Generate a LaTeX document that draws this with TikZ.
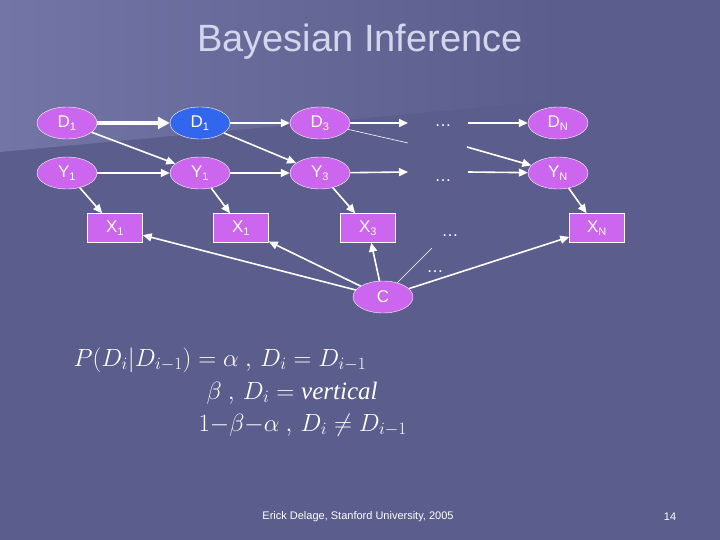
\documentclass[tikz,border=0pt]{standalone}
\usepackage{fontspec}
\setsansfont{Liberation Sans}
\setmainfont{Liberation Serif}
\usetikzlibrary{shapes.geometric,arrows.meta}
\definecolor{bg}{HTML}{5B5D8C}
\definecolor{bgl}{HTML}{7275A5}
\definecolor{nd}{HTML}{CC66EE}
\definecolor{bl}{HTML}{3366EE}
\definecolor{tt}{HTML}{D4D6EC}
\newcommand{\sbb}[1]{\textsubscript{\fontsize{11}{11}\selectfont #1}}
\begin{document}
\begin{tikzpicture}[x=1pt,y=-1pt,
  ell/.style={ellipse,draw=white,fill=nd,minimum width=60pt,minimum height=32pt,inner sep=0pt,text=white,font=\sffamily\fontsize{17}{17}\selectfont},
  box/.style={rectangle,draw=white,fill=nd,minimum width=55pt,minimum height=29pt,inner sep=0pt,text=white,font=\sffamily\fontsize{17}{17}\selectfont},
  dts/.style={text=white,font=\sffamily\fontsize{17}{17}\selectfont},
  frm/.style={anchor=west,text=white,font=\fontsize{25}{25}\selectfont},
  arr/.style={draw=white,line width=1.6pt,-{Triangle[length=9pt,width=8pt]}},
  thin/.style={draw=white,line width=0.6pt}]
\useasboundingbox (0,0) rectangle (720,540);
\fill[bg] (0,0) rectangle (720,540);
\shade[left color=bgl,right color=bg] (0,0) -- (560,0) -- (560,100) -- (0,152) -- cycle;
\node[text=tt,font=\sffamily\fontsize{38}{38}\selectfont] (title) at (360,42) {Bayesian Inference};
\node[ell] (d1) at (67,123) {D\sbb{1}};
\node[ell,fill=bl] (d2) at (200,123) {D\sbb{1}};
\node[ell] (d3) at (320,123) {D\sbb{3}};
\node[dts] (dd) at (443,126) {\dots};
\node[ell] (dn) at (558,123) {D\sbb{N}};
\node[ell] (y1) at (67,173) {Y\sbb{1}};
\node[ell] (y2) at (200,173) {Y\sbb{1}};
\node[ell] (y3) at (320,173) {Y\sbb{3}};
\node[dts] (yd) at (443,181) {\dots};
\node[ell] (yn) at (558,173) {Y\sbb{N}};
\node[box] (x1) at (115,228) {X\sbb{1}};
\node[box] (x2) at (241,228) {X\sbb{1}};
\node[box] (x3) at (368,228) {X\sbb{3}};
\node[dts] (xd) at (450,236) {\dots};
\node[box] (xn) at (597,228) {X\sbb{N}};
\node[ell] (c) at (383,297) {C};
\node[dts] (cd) at (435,272) {\dots};
\coordinate (a1) at (408,123); \coordinate (a2) at (468,123);
\coordinate (b1) at (408,172); \coordinate (b2) at (468,172);
\coordinate (e1) at (408,143); \coordinate (e2) at (467,147);
\coordinate (f1) at (432,248);
\draw[arr,line width=3.5pt,-{Triangle[length=12pt,width=12pt]}] (d1) -- (d2);
\draw[arr] (d2) -- (d3);
\draw[arr] (d3) -- (a1);
\draw[arr] (a2) -- (dn);
\draw[arr] (d1) -- (y2);
\draw[arr] (d2) -- (y3);
\draw[thin] (d3) -- (e1);
\draw[arr] (e2) -- (yn);
\draw[arr] (y1) -- (y2);
\draw[arr] (y2) -- (y3);
\draw[arr] (y3) -- (b1);
\draw[arr] (b2) -- (yn);
\draw[arr] (y1) -- (x1);
\draw[arr] (y2) -- (x2);
\draw[arr] (y3) -- (x3);
\draw[arr] (yn) -- (xn);
\draw[arr] (c) -- (x1);
\draw[arr] (c) -- (x2);
\draw[arr] (c) -- (x3);
\draw[arr] (c) -- (xn);
\draw[thin] (c) -- (f1);
\node[frm] (f1l) at (70,360) {$P(D_{i}|D_{i-1})=\alpha\ ,\,D_{i}=D_{i-1}$};
\node[frm] (f2l) at (203,393) {$\beta\ ,\,D_{i}=\mathit{vertical}$};
\node[frm] (f3l) at (195,425) {$1{-}\beta{-}\alpha\ ,\,D_{i}\neq D_{i-1}$};
\node[text=white,font=\sffamily\fontsize{11}{11}\selectfont] (foot) at (358,517) {Erick Delage, Stanford University, 2005};
\node[text=white,font=\sffamily\fontsize{11}{11}\selectfont] (pg) at (670,517) {14};
\end{tikzpicture}
\end{document}
